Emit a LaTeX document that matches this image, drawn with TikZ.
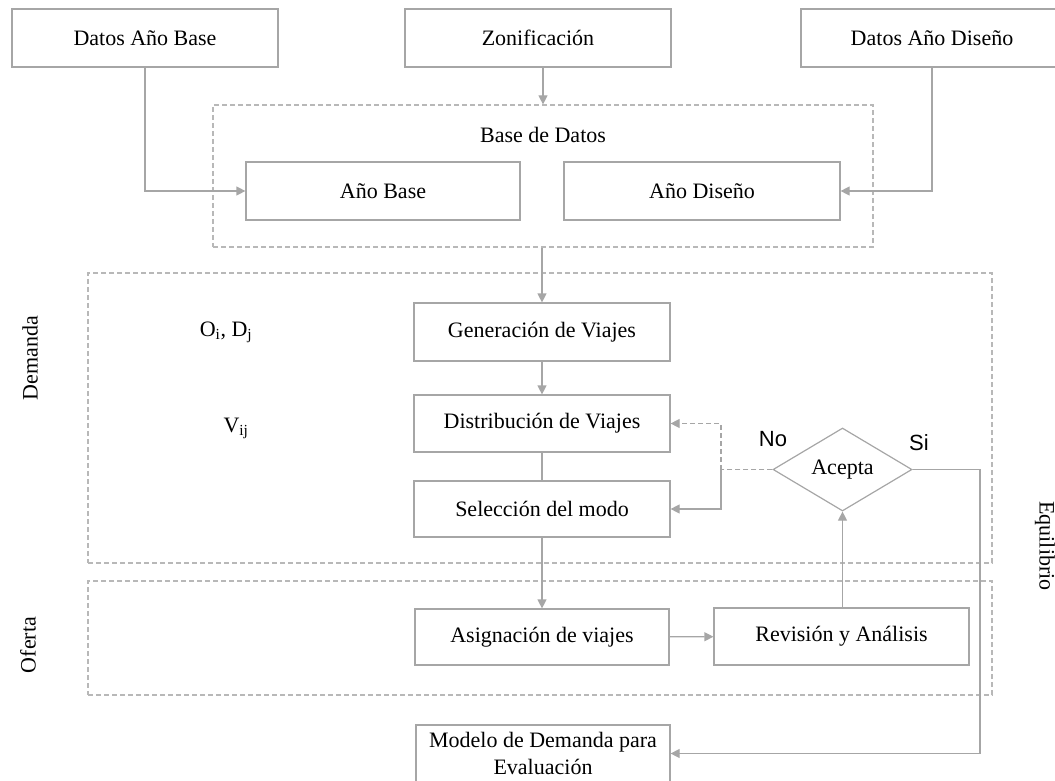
\documentclass[tikz,border=0pt]{standalone}
\usepackage{fontspec}
\setmainfont{Liberation Serif}
\newfontfamily\labelsans{Liberation Sans}
\usetikzlibrary{arrows.meta,shapes.geometric}
\definecolor{linegray}{RGB}{166,166,166}
\definecolor{dashgray}{RGB}{184,184,184}

\begin{document}
\begin{tikzpicture}[x=1pt,y=-1pt,
  every node/.style={font=\fontsize{22}{27}\selectfont, text=black},
  box/.style={draw=linegray, line width=1.2pt, rectangle, inner sep=0pt, align=center},
  group/.style={draw=dashgray, line width=1.2pt, dash pattern=on 5pt off 3pt, rectangle, inner sep=0pt},
  link/.style={draw=linegray, line width=1.2pt},
  arr/.style={link, -{Triangle[length=9pt,width=9pt]}},
  darr/.style={link, dash pattern=on 5pt off 3pt, -{Triangle[length=9pt,width=9pt]}},
  dlink/.style={link, dash pattern=on 5pt off 3pt},
  yesno/.style={font=\labelsans\fontsize{22}{27}\selectfont}
]
\useasboundingbox (0,0) rectangle (1055,781);

% dashed grouping frames
\node[group, minimum width=660, minimum height=142] (bd) at (543,176) {};
\node[group, minimum width=904, minimum height=290] (dem) at (540,418) {};
\node[group, minimum width=904, minimum height=114] (ofe) at (540,638) {};

% input data
\node[box, minimum width=266, minimum height=58] (dab) at (145,38) {Datos Año Base};
\node[box, minimum width=266, minimum height=58] (zon) at (538,38) {Zonificación};
\node[box, minimum width=262, minimum height=58] (dad) at (932,38) {Datos Año Diseño};

% database
\node (bdtitle) at (543,135) {Base de Datos};
\node[box, minimum width=274, minimum height=58] (ab) at (383,191) {Año Base};
\node[box, minimum width=276, minimum height=58] (ad) at (702,191) {Año Diseño};

% demand stages
\node[box, minimum width=256, minimum height=58] (gen) at (542,332) {Generación de Viajes};
\node[box, minimum width=256, minimum height=57] (dist) at (542,423.5) {Distribución de Viajes};
\node[box, minimum width=256, minimum height=56] (sel) at (542,509) {Selección del modo};
\node[diamond, draw=linegray, line width=1.2pt, inner sep=0pt,
      minimum width=139, minimum height=83] (acc) at (842.5,469.5) {Acepta};

% supply stages
\node[box, minimum width=254, minimum height=56] (asg) at (542,637) {Asignación de viajes};
\node[box, minimum width=255, minimum height=57] (rev) at (841.5,636.5) {Revisión y Análisis};

% final model
\node[box, minimum width=254, minimum height=57] (mod) at (543,753.5) {Modelo de Demanda para\\Evaluación};

% side labels
\node[rotate=90] (lbldem) at (30,358) {Demanda};
\node[rotate=90] (lblofe) at (28,645) {Oferta};
\node[rotate=-90] (lbleq) at (1045,546) {Equilibrio};
\node (lblod) at (226,332) {O\textsubscript{i}, D\textsubscript{j}};
\node (lblv) at (236,428) {V\textsubscript{ij}};
\node[yesno] (lblno) at (773,439) {No};
\node[yesno] (lblsi) at (919,443) {Si};

% connectors
\draw[arr] (dab.south) |- (ab.west);
\draw[arr] (dad.south) |- (ad.east);
\draw[arr] (zon.south -| bd.north) -- (bd.north);
\draw[arr] (bd.south -| gen.north) -- (gen.north);
\draw[arr] (gen) -- (dist);
\draw[link] (dist) -- (sel);
\draw[arr] (sel) -- (asg);
\draw[arr] (asg) -- (rev);
\draw[arr] (rev.north -| acc.south) -- (acc.south);

\coordinate (split) at (721,469.5);
\draw[dlink] (acc.west) -- (split);
\draw[darr] (split) |- (dist.east);
\draw[arr] (split) |- (sel.east);

\coordinate (sicorner) at (980,753.5);
\draw[arr] (acc.east) -| (sicorner) -- (mod.east);
\end{tikzpicture}
\end{document}
